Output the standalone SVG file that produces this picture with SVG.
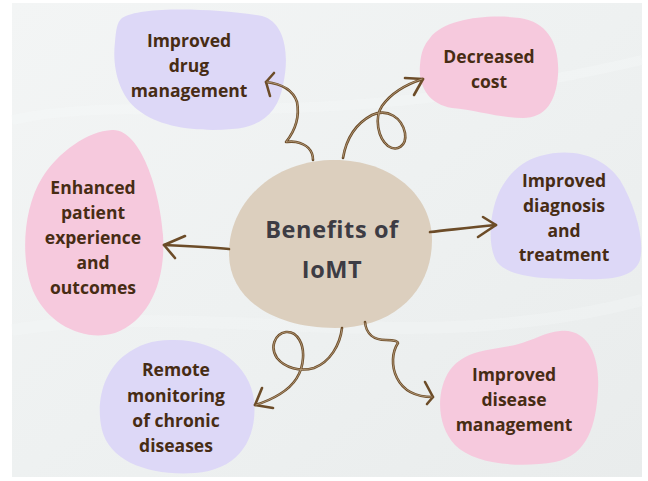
<svg xmlns="http://www.w3.org/2000/svg" width="648" height="481" viewBox="0 0 648 481">
  <defs>
    <linearGradient id="paper" x1="0" y1="0" x2="1" y2="1">
      <stop offset="0" stop-color="#f3f5f5"/>
      <stop offset="0.5" stop-color="#eef1f1"/>
      <stop offset="1" stop-color="#e9ecec"/>
    </linearGradient>
    <style>
      .lav { fill: #ddd8f7; }
      .pink { fill: #f6c9dd; }
      .hub { fill: #dccfbe; }
      .label { font-family: "Open Sans", "Liberation Sans", sans-serif; font-weight: 700; font-size: 17.5px; fill: #472c14; text-anchor: middle; }
      .title { font-family: "Open Sans", "Liberation Sans", sans-serif; font-weight: 700; font-size: 23.5px; letter-spacing: 0.6px; fill: #3d3c44; text-anchor: middle; }
      .wire { fill: none; stroke: #6c4c28; stroke-width: 2.6; stroke-linecap: round; stroke-linejoin: round; }
      .wire-hi { fill: none; stroke: #c9b293; stroke-width: 0.7; stroke-linecap: round; stroke-linejoin: round; }
    </style>
  </defs>

  <!-- paper backdrop -->
  <rect x="0" y="0" width="648" height="481" fill="#ffffff"/>
  <rect x="12" y="3" width="630" height="474" fill="url(#paper)"/>
  <path d="M12,120 C 150,90 300,140 642,60" fill="none" stroke="#f6f8f8" stroke-width="10" opacity="0.35"/>
  <path d="M12,330 C 200,300 420,360 642,300" fill="none" stroke="#f6f8f8" stroke-width="12" opacity="0.3"/>

  <!-- hub -->
  <g id="hub">
    <path class="hub" d="M330,160 C 390,158 432,195 432,240 C 432,290 395,328 335,328 C 275,328 230,300 229,255 C 228,205 270,162 330,160 Z"/>
    <text class="title" x="332" y="238">Benefits of</text>
    <text class="title" x="332" y="278">IoMT</text>
  </g>

  <g id="drug-management">
    <path class="lav" d="M122,18 C 140,6 215,8 262,16 C 285,22 290,55 283,85 C 278,112 262,127 232,129 C 200,132 160,128 138,110 C 118,95 112,65 115,42 C 116,30 117,22 122,18 Z"/>
    <text class="label" x="189" y="47">Improved</text>
    <text class="label" x="189" y="72">drug</text>
    <text class="label" x="189" y="97">management</text>
  </g>

  <g id="decreased-cost">
    <path class="pink" d="M430,38 C 445,18 490,14 520,18 C 548,22 560,45 558,75 C 556,102 545,118 523,118 C 500,118 475,110 452,108 C 428,104 418,85 420,65 C 421,52 424,45 430,38 Z"/>
    <text class="label" x="489" y="63">Decreased</text>
    <text class="label" x="489" y="88">cost</text>
  </g>

  <g id="patient-experience">
    <path class="pink" d="M112,130 C 140,128 160,190 163,235 C 166,280 150,320 115,333 C 85,342 50,325 35,295 C 20,265 22,210 42,178 C 58,152 88,131 112,130 Z"/>
    <text class="label" x="93" y="194">Enhanced</text>
    <text class="label" x="93" y="219">patient</text>
    <text class="label" x="93" y="244">experience</text>
    <text class="label" x="93" y="269">and</text>
    <text class="label" x="93" y="294">outcomes</text>
  </g>

  <g id="diagnosis-treatment">
    <path class="lav" d="M540,156 C 575,146 605,158 620,180 C 635,205 645,240 640,260 C 634,278 610,280 580,279 C 545,279 510,278 497,262 C 486,245 490,205 503,185 C 512,170 525,160 540,156 Z"/>
    <text class="label" x="564" y="187">Improved</text>
    <text class="label" x="564" y="212">diagnosis</text>
    <text class="label" x="564" y="237">and</text>
    <text class="label" x="564" y="261">treatment</text>
  </g>

  <g id="remote-monitoring">
    <path class="lav" d="M170,340 C 215,338 250,365 254,400 C 258,440 238,470 195,473 C 150,476 110,462 102,430 C 95,400 105,370 125,355 C 138,345 153,340 170,340 Z"/>
    <text class="label" x="176" y="376">Remote</text>
    <text class="label" x="176" y="402">monitoring</text>
    <text class="label" x="176" y="427">of chronic</text>
    <text class="label" x="176" y="452">diseases</text>
  </g>

  <g id="disease-management">
    <path class="pink" d="M560,331 C 590,328 600,360 598,390 C 596,425 588,455 555,462 C 520,468 475,465 455,445 C 436,425 436,390 450,370 C 465,350 490,350 515,345 C 535,340 545,332 560,331 Z"/>
    <text class="label" x="514" y="381">Improved</text>
    <text class="label" x="514" y="406">disease</text>
    <text class="label" x="514" y="431">management</text>
  </g>

  <!-- connectors, drawn over the shapes -->
  <g id="connectors">
    <!-- to Improved drug management -->
    <g>
      <path class="wire" d="M313,160 C 313,150 306,144 296,142 C 291,141 287,142 286,142 C 294,132 300,118 297,102 C 293,90 283,84 266,82"/>
      <path class="wire" d="M274,73 L 266,82 L 270,96"/>
      <path class="wire-hi" d="M313,159 C 313,150 306,144 296,142 C 291,141 287,142 286,142 C 294,132 300,118 297,102 C 293,90 283,84 267,82"/>
    </g>
    <!-- to Decreased cost -->
    <g>
      <path class="wire" d="M343,158 C 346,140 355,124 372,115 C 388,108 402,118 405,133 C 407,146 397,152 388,146 C 378,138 374,118 382,106 C 392,92 407,84 423,79"/>
      <path class="wire" d="M405,78 L 423,79 L 414,95"/>
      <path class="wire-hi" d="M343,157 C 346,140 355,124 372,115 C 388,108 402,118 405,133 C 407,146 397,152 388,146 C 378,138 374,118 382,106 C 392,92 407,84 422,79"/>
    </g>
    <!-- to Enhanced patient experience and outcomes -->
    <g>
      <path class="wire" d="M229,249 C 210,247 188,246 164,245"/>
      <path class="wire" d="M185,236 L 164,245 L 175,258"/>
    </g>
    <!-- to Improved diagnosis and treatment -->
    <g>
      <path class="wire" d="M430,232 C 450,230 472,227 496,225"/>
      <path class="wire" d="M483,217 L 496,225 L 478,237"/>
    </g>
    <!-- to Remote monitoring of chronic diseases -->
    <g>
      <path class="wire" d="M342,328 C 340,345 330,362 314,368 C 300,372 285,368 277,358 C 270,348 274,334 286,332 C 298,331 304,345 303,358 C 302,375 293,386 280,394 C 272,399 262,403 255,405"/>
      <path class="wire" d="M262,388 L 255,405 L 273,408"/>
      <path class="wire-hi" d="M342,329 C 340,345 330,362 314,368 C 300,372 285,368 277,358 C 270,348 274,334 286,332 C 298,331 304,345 303,358 C 302,375 293,386 280,394 C 272,399 262,403 256,405"/>
    </g>
    <!-- to Improved disease management -->
    <g>
      <path class="wire" d="M365,322 C 366,334 374,340 386,340 C 393,340 398,341 398,343 C 392,352 391,366 397,378 C 404,392 418,397 433,397"/>
      <path class="wire" d="M425,382 L 433,397 L 427,404"/>
      <path class="wire-hi" d="M365,323 C 366,334 374,340 386,340 C 393,340 398,341 398,343 C 392,352 391,366 397,378 C 404,392 418,397 432,397"/>
    </g>
  </g>
</svg>
